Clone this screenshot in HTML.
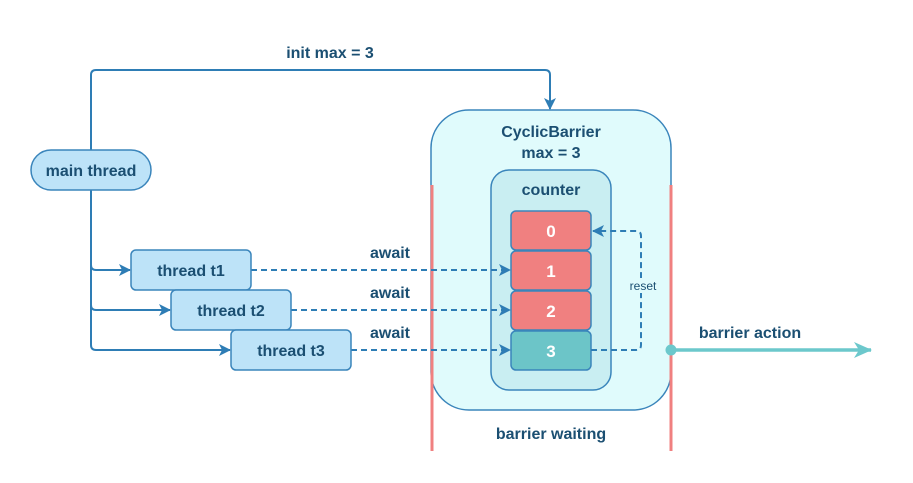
<!DOCTYPE html>
<html><head><meta charset="utf-8"><style>
html,body{margin:0;padding:0;background:#fff;}
svg{display:block;}
text{font-family:"Liberation Sans",sans-serif;font-weight:bold;fill:#1B4F72;}
</style></head><body>
<svg width="913" height="483" viewBox="0 0 913 483" xmlns="http://www.w3.org/2000/svg">
<defs>
<marker id="a" markerWidth="12" markerHeight="12" refX="11" refY="6" orient="auto" markerUnits="userSpaceOnUse">
<path d="M0,0 L12,6 L0,12 L3,6 Z" fill="#2E7DB5"/></marker>
<marker id="b" markerWidth="18" markerHeight="16" refX="17" refY="8" orient="auto" markerUnits="userSpaceOnUse">
<path d="M0,0 L18,8 L0,16 L5,8 Z" fill="#6CC8CC"/></marker>
</defs>
<rect x="431" y="110" width="240" height="300" rx="38" fill="#E0FBFC" stroke="#3A85BB" stroke-width="1.5"/>
<rect x="491" y="170" width="120" height="220" rx="18" fill="#C9EEF2" stroke="#3A85BB" stroke-width="1.5"/>
<line x1="432" y1="185" x2="432" y2="451" stroke="#F08080" stroke-width="3"/>
<line x1="671" y1="185" x2="671" y2="451" stroke="#F08080" stroke-width="3"/>
<text x="551" y="137" font-size="16" text-anchor="middle">CyclicBarrier</text>
<text x="551" y="158" font-size="16" text-anchor="middle">max = 3</text>
<text x="551" y="195" font-size="16" text-anchor="middle">counter</text>
<rect x="511" y="211" width="80" height="39" rx="5" fill="#F08080" stroke="#3A85BB" stroke-width="1.5"/>
<rect x="511" y="251" width="80" height="39" rx="5" fill="#F08080" stroke="#3A85BB" stroke-width="1.5"/>
<rect x="511" y="291" width="80" height="39" rx="5" fill="#F08080" stroke="#3A85BB" stroke-width="1.5"/>
<rect x="511" y="331" width="80" height="39" rx="5" fill="#6CC5C8" stroke="#3A85BB" stroke-width="1.5"/>
<g font-size="17" text-anchor="middle"><text x="551" y="237" style="fill:#fff">0</text><text x="551" y="277" style="fill:#fff">1</text><text x="551" y="317" style="fill:#fff">2</text><text x="551" y="357" style="fill:#fff">3</text></g>
<path d="M591,350 H636 Q641,350 641,345 V236 Q641,231 636,231 H593" fill="none" stroke="#2E7DB5" stroke-width="2" stroke-dasharray="6,4" marker-end="url(#a)"/>
<rect x="626" y="278" width="34" height="15" fill="#E0FBFC"/>
<text x="643" y="290" font-size="12" text-anchor="middle" style="font-weight:normal">reset</text>
<path d="M91,150 V75 Q91,70 96,70 H545 Q550,70 550,75 V109" fill="none" stroke="#2E7DB5" stroke-width="2" marker-end="url(#a)"/>
<text x="330" y="58" font-size="16" text-anchor="middle">init max = 3</text>
<path d="M91,190 V345 Q91,350 96,350 H230" fill="none" stroke="#2E7DB5" stroke-width="2" marker-end="url(#a)"/>
<path d="M91,265 Q91,270 96,270 H130" fill="none" stroke="#2E7DB5" stroke-width="2" marker-end="url(#a)"/>
<path d="M91,305 Q91,310 96,310 H170" fill="none" stroke="#2E7DB5" stroke-width="2" marker-end="url(#a)"/>
<rect x="31" y="150" width="120" height="40" rx="20" fill="#BDE3F8" stroke="#3A85BB" stroke-width="1.5"/>
<text x="91" y="176" font-size="16" text-anchor="middle">main thread</text>
<g stroke="#2E7DB5" stroke-width="2" stroke-dasharray="6,4" fill="none">
<line x1="251" y1="270" x2="510" y2="270" marker-end="url(#a)"/>
<line x1="291" y1="310" x2="510" y2="310" marker-end="url(#a)"/>
<line x1="351" y1="350" x2="510" y2="350" marker-end="url(#a)"/>
</g>
<g font-size="16" text-anchor="middle"><text x="390" y="258">await</text><text x="390" y="298">await</text><text x="390" y="338">await</text></g>
<rect x="131" y="250" width="120" height="40" rx="5" fill="#BDE3F8" stroke="#3A85BB" stroke-width="1.5"/>
<text x="191" y="276" font-size="16" text-anchor="middle">thread t1</text>
<rect x="171" y="290" width="120" height="40" rx="5" fill="#BDE3F8" stroke="#3A85BB" stroke-width="1.5"/>
<text x="231" y="316" font-size="16" text-anchor="middle">thread t2</text>
<rect x="231" y="330" width="120" height="40" rx="5" fill="#BDE3F8" stroke="#3A85BB" stroke-width="1.5"/>
<text x="291" y="356" font-size="16" text-anchor="middle">thread t3</text>
<line x1="671" y1="350" x2="871" y2="350" stroke="#6CC8CC" stroke-width="3.5" marker-end="url(#b)"/>
<circle cx="671" cy="350" r="5.5" fill="#6CC8CC"/>
<text x="750" y="338" font-size="16" text-anchor="middle">barrier action</text>
<text x="551" y="439" font-size="16" text-anchor="middle">barrier waiting</text>
</svg>
</body></html>
